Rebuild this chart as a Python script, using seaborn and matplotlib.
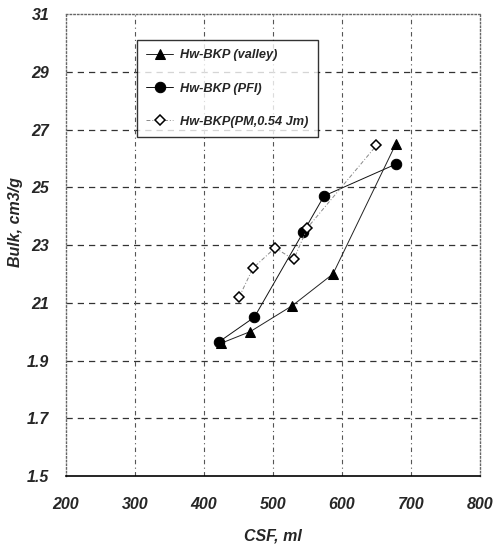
import pandas as pd
import matplotlib.pyplot as plt
import numpy as np
import seaborn as sns

# data
valley_csf = [425, 467, 528, 587, 678]
valley_bulk = [1.96, 2.00, 2.09, 2.20, 2.65]

pfi_csf = [422, 473, 544, 574, 678]
pfi_bulk = [1.965, 2.05, 2.345, 2.47, 2.58]

pm_csf = [451, 471, 503, 530, 550, 650]
pm_bulk = [2.12, 2.22, 2.29, 2.25, 2.36, 2.645]

y_ticks = [1.5, 1.7, 1.9, 2.1, 2.3, 2.5, 2.7, 2.9, 3.1]
y_ticklabels = ["1.5", "1.7", "1.9", "21", "23", "25", "27", "29", "31"]
x_ticks = [200, 300, 400, 500, 600, 700, 800]

sns.set_style('white')
plt.rcParams['font.family'] = ['Liberation Sans', 'DejaVu Sans']

fig = plt.figure(figsize=(4.95, 5.45), dpi=100)
ax = fig.add_axes([0.1333, 0.1266, 0.8364, 0.8477])

sns.lineplot(x=valley_csf, y=valley_bulk, ax=ax, sort=False, color='#222222',
             lw=0.7, marker='^', markersize=7.5, markerfacecolor='black',
             markeredgecolor='black', label='Hw-BKP (valley)')
sns.lineplot(x=pfi_csf, y=pfi_bulk, ax=ax, sort=False, color='#111111',
             lw=0.7, marker='o', markersize=7.5, markerfacecolor='black',
             markeredgecolor='black', label='Hw-BKP (PFI)')
sns.lineplot(x=pm_csf, y=pm_bulk, ax=ax, sort=False, color='#888888',
             lw=0.7, ls=(0, (4, 2, 1, 2)), marker='D', markersize=5.5,
             markerfacecolor='white', markeredgecolor='black', markeredgewidth=1.1,
             label='Hw-BKP(PM,0.54 Jm)')

ax.set_xlim(200, 800)
ax.set_ylim(1.5, 3.1)
ax.set_xticks(x_ticks)
ax.set_yticks(y_ticks)
ax.set_yticklabels(y_ticklabels)
ax.tick_params(length=0, labelsize=11.5, pad=12)
for lab in ax.get_xticklabels() + ax.get_yticklabels():
    lab.set_fontweight('bold')
    lab.set_fontstyle('italic')
ax.tick_params(axis='x', pad=15)

# Excel-ish gridlines
for yv in y_ticks[1:-1]:
    ax.axhline(yv, color='#333333', lw=0.9, ls=(0, (5, 4)), zorder=0)
for xv in x_ticks[1:-1]:
    ax.axvline(xv, color='#555555', lw=0.8, ls=(0, (4, 3, 1, 3)), zorder=0)

for side in ['left', 'top', 'right']:
    ax.spines[side].set_color('#666666')
    ax.spines[side].set_linestyle(':')
    ax.spines[side].set_linewidth(1.0)
ax.spines['bottom'].set_color('black')
ax.spines['bottom'].set_linewidth(1.2)

ax.set_xlabel('CSF, ml', fontsize=11.5, fontweight='bold', style='italic', labelpad=12)
ax.set_ylabel('Bulk, cm3/g', fontsize=11.5, fontweight='bold', style='italic')
ax.yaxis.set_label_coords(-0.105, 0.55)

leg = ax.legend(loc='upper left', bbox_to_anchor=(0.171, 0.944), frameon=True,
                fancybox=False, edgecolor='black', fontsize=9.2, labelspacing=1.65,
                handlelength=2.1, borderpad=0.75, handletextpad=0.5,
                borderaxespad=0)
leg.get_frame().set_linewidth(1.0)
for t in leg.get_texts():
    t.set_fontweight('bold')
    t.set_fontstyle('italic')

fig.savefig('out.png', dpi=100)
